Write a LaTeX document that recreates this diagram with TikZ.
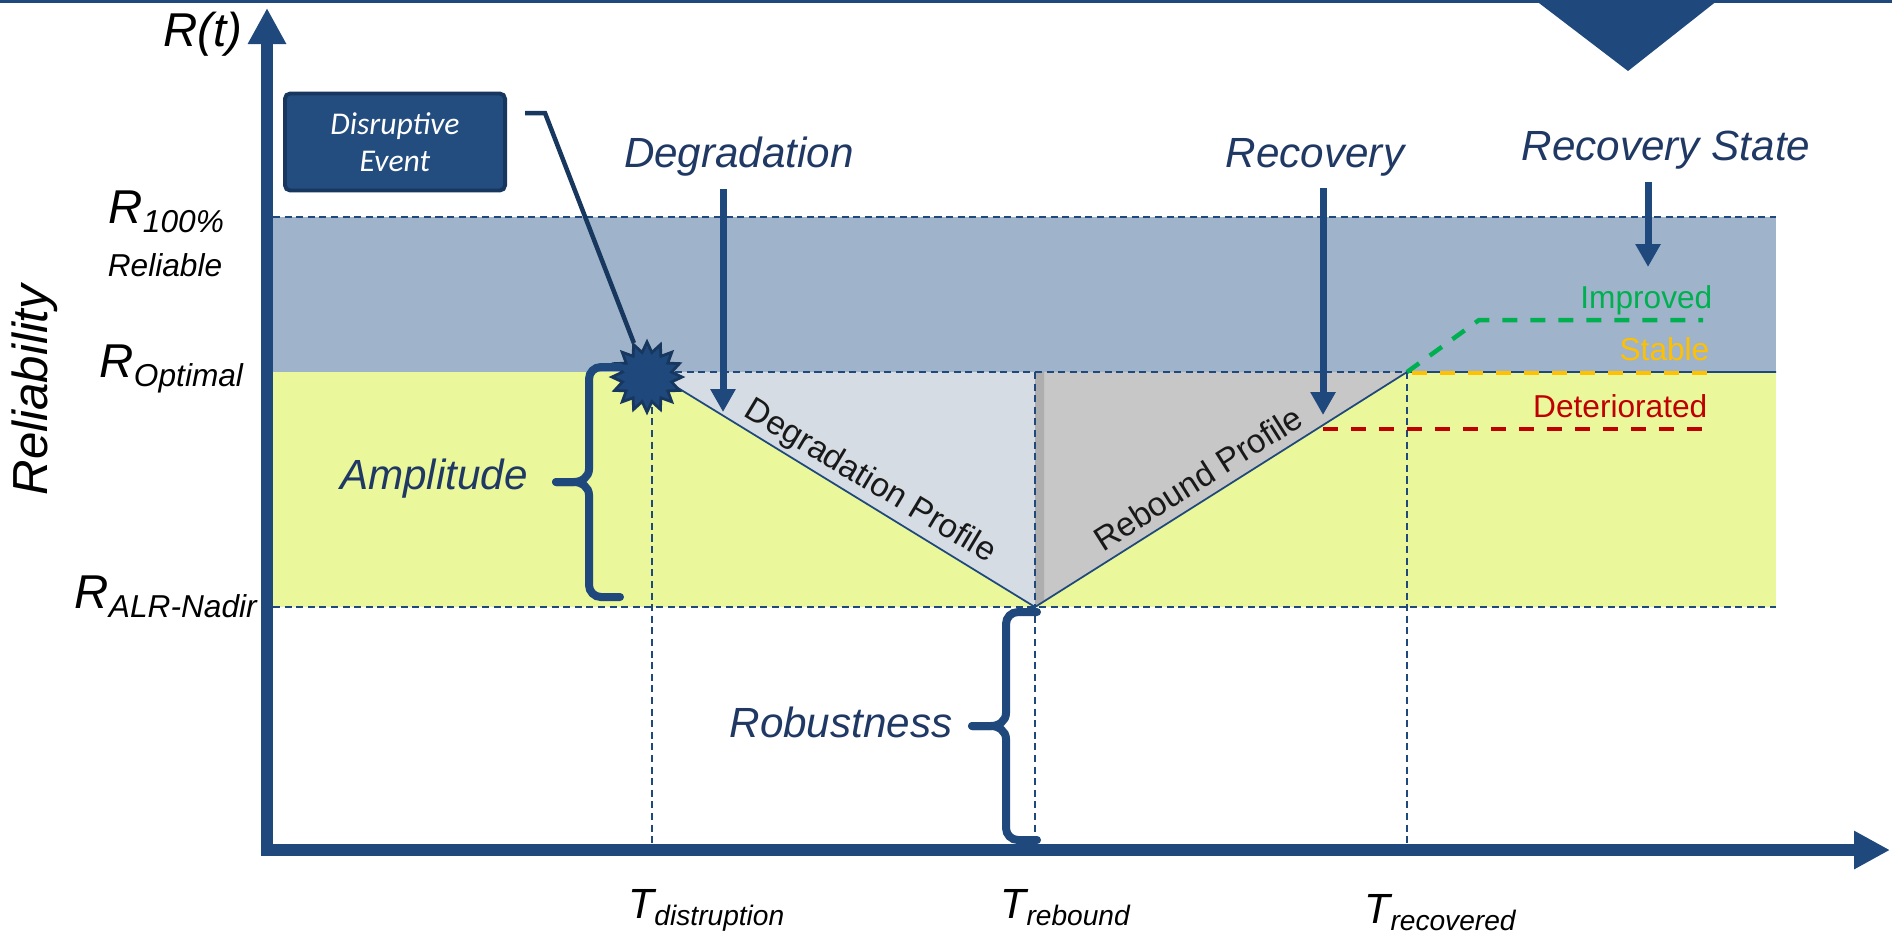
\documentclass[tikz,border=0pt]{standalone}
\usepackage{fontspec}
\setmainfont{Liberation Sans}
\newfontfamily\calfont{Carlito}
\usetikzlibrary{arrows.meta,shapes.geometric}

\definecolor{axisblue}{HTML}{1F497D}
\definecolor{darkblue}{HTML}{17375E}
\definecolor{labelblue}{HTML}{1F3864}
\definecolor{bandblue}{HTML}{9FB4CB}
\definecolor{bandyellow}{HTML}{EAF79B}
\definecolor{degfill}{HTML}{D5DCE4}
\definecolor{rebfill}{HTML}{C7C7C7}
\definecolor{boxblue}{HTML}{234C7F}
\definecolor{improvedgreen}{HTML}{00B050}
\definecolor{stableorange}{HTML}{FFC000}
\definecolor{deterred}{HTML}{C00000}

% level and time marks on the axes
\newcommand{\rlevel}[1]{{\fontsize{13.5}{15}\selectfont\itshape R}\raisebox{-2.8pt}{\fontsize{9}{10}\selectfont\itshape #1}}
\newcommand{\tmark}[1]{{\fontsize{12}{14}\selectfont\itshape T}\raisebox{-2pt}{\fontsize{8}{9}\selectfont\itshape #1}}

\begin{document}
\begin{tikzpicture}[x=0.01cm,y=-0.01cm,
    axis/.style={line width=0.12cm, color=axisblue, line join=miter},
    guide/.style={color=axisblue, line width=0.45pt, dash pattern=on 2pt off 1.3pt},
    pointer/.style={line width=0.07cm, color=axisblue, -{Triangle[width=0.24cm,length=0.23cm]}},
    phase/.style={color=labelblue, font=\fontsize{12}{14}\selectfont\itshape},
    bracebig/.style={color=axisblue, line width=0.08cm, line cap=round},
    statedash/.style={line width=0.045cm, dash pattern=on 0.15cm off 0.13cm},
    statetext/.style={font=\fontsize{9}{10}\selectfont, inner sep=0pt, anchor=base east},
    profile/.style={font=\fontsize{9.5}{11}\selectfont, text=black!90, inner sep=1pt}]
    \useasboundingbox (0,0) rectangle (1892,938);

    % header bar
    \fill[axisblue] (0,0) rectangle (1892,3);
    \fill[axisblue] (1535,0) -- (1718,0) -- (1628,71) -- cycle;

    % bands
    \fill[bandblue] (273,217) rectangle (1776,372);
    \fill[bandyellow] (273,372) rectangle (1776,607);

    \coordinate (tdis) at (652,372);
    \coordinate (nadir) at (1035,607);
    \coordinate (trec) at (1407,372);
    \coordinate (rend) at (1776,372);

    \fill[degfill] (tdis) -- (nadir) -- (1035,372) -- cycle;
    \fill[rebfill] (1035,372) -- (nadir) -- (trec) -- cycle;
    \fill[black, opacity=0.12] (1035,372) -- (1044,372) -- (1044,601) -- (nadir) -- cycle;

    % guide lines
    \draw[guide] (273,217) -- (1776,217);
    \draw[guide] (tdis) -- (trec);
    \draw[guide] (273,607) -- (1776,607);
    \foreach \x in {652,1035,1407}
        \draw[guide] (\x,372) -- (\x,844);

    % profile
    \draw[axisblue, line width=0.5pt] (tdis) -- (nadir) -- (trec) -- (rend);

    % recovery states
    \draw[statedash, improvedgreen] (trec) -- (1479,320) -- (1703,320);
    \draw[statedash, stableorange] (1412,373) -- (1711,373);
    \draw[statedash, deterred] (1323,429) -- (1711,429);
    \node[statetext, improvedgreen] (improved) at (1713,308) {Improved};
    \node[statetext, stableorange] (stable) at (1710,360) {Stable};
    \node[statetext, deterred] (deteriorated) at (1708,417) {Deteriorated};

    % axes
    \draw[axis, {Triangle[width=0.36cm,length=0.36cm]}-{Triangle[width=0.36cm,length=0.36cm]}] (267,8) |- (1890,850);

    \node[anchor=east, inner sep=0pt, font=\fontsize{13.5}{15}\selectfont\itshape] (rt) at (243,34) {R(t)};
    \node[rotate=90, font=\fontsize{14}{16}\selectfont\itshape] (reliability) at (35,390) {Reliability};
    \node[anchor=base west, inner sep=0pt] (rfull) at (108,223) {\rlevel{100\%}};
    \node[font=\fontsize{9}{10}\selectfont\itshape] (reliable) at (165,265) {Reliable};
    \node[anchor=base west, inner sep=0pt] (ropt) at (99,377) {\rlevel{Optimal}};
    \node[anchor=base west, inner sep=0pt] (rnadir) at (74,608) {\rlevel{ALR-Nadir}};

    \node[anchor=base west, inner sep=0pt] (tdisl) at (628,918) {\tmark{distruption}};
    \node[anchor=base west, inner sep=0pt] (trebl) at (1000,918) {\tmark{rebound}};
    \node[anchor=base west, inner sep=0pt] (trecl) at (1364,923) {\tmark{recovered}};

    % disruptive event
    \node[star, star points=16, star point ratio=1.4, minimum size=0.7cm, inner sep=0pt,
          fill=axisblue, draw=darkblue, line width=0.8pt] (event) at (647,377) {};
    \node[draw=darkblue, line width=1.1pt, fill=boxblue, rounded corners=1.5pt,
          minimum width=2.2cm, minimum height=0.97cm, text=white, align=center,
          font=\calfont\itshape\fontsize{9}{10.5}\selectfont] (disbox) at (395,142) {Disruptive\\Event};
    \coordinate (leadstart) at (525,113);
    \coordinate (leadbend) at (545,113);
    \draw[darkblue, line width=0.045cm] (leadstart) -- (leadbend) -- (event);

    % phases
    \node[phase] (degr) at (739,157) {Degradation};
    \coordinate (degtip) at (723,412);
    \draw[pointer] (degr.south -| degtip) -- (degtip);

    \node[phase] (recov) at (1315,157) {Recovery};
    \coordinate (rectip) at (1323,415);
    \draw[pointer] (recov.south -| rectip) -- (rectip);

    \node[phase] (recstate) at (1666,150) {Recovery State};
    \coordinate (statetip) at (1648,267);
    \draw[pointer] (recstate.south -| statetip) -- (statetip);

    \node[profile, rotate=-31] (degprof) at (870,482) {Degradation Profile};
    \node[profile, rotate=32.3] (rebprof) at (1198,478) {Rebound Profile};

    % braces
    \draw[bracebig] (620,367) -- (601,367) to[out=180,in=90] (589,379) -- (589,469)
        to[out=-90,in=0] (574,482) -- (556,482);
    \draw[bracebig] (556,482) -- (574,482) to[out=0,in=90] (589,495) -- (589,585)
        to[out=-90,in=180] (601,597) -- (620,597);
    \node[phase] (ampl) at (434,479) {Amplitude};
    \draw[bracebig] (1037,612) -- (1018,612) to[out=180,in=90] (1006,624) -- (1006,713)
        to[out=-90,in=0] (991,726) -- (972,726);
    \draw[bracebig] (972,726) -- (991,726) to[out=0,in=90] (1006,739) -- (1006,828)
        to[out=-90,in=180] (1018,840) -- (1037,840);
    \node[phase] (robust) at (841,722) {Robustness};
\end{tikzpicture}
\end{document}
